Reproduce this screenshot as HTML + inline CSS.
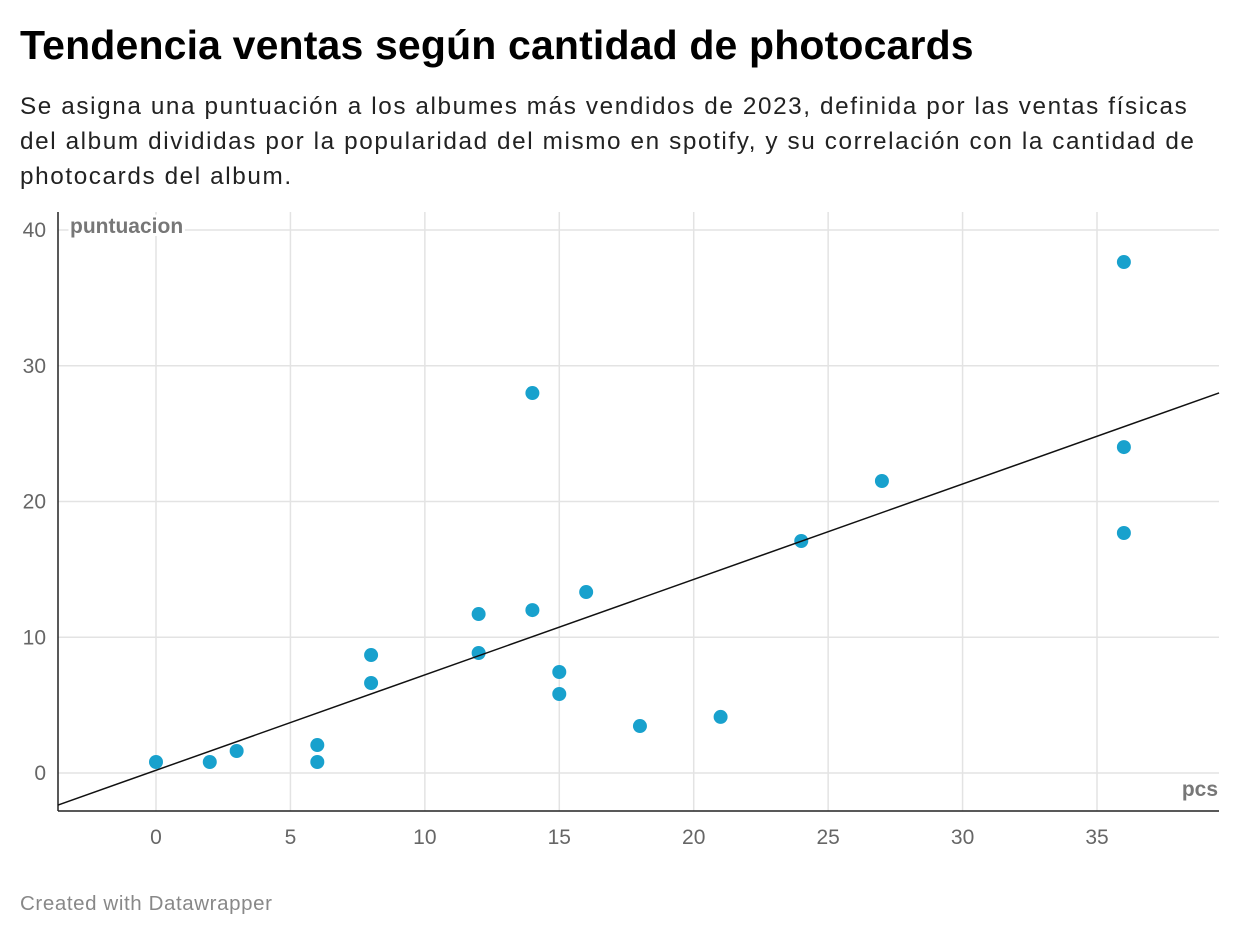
<!DOCTYPE html>
<html><head><meta charset="utf-8"><style>
body{margin:0;background:#fff;font-family:"Liberation Sans",sans-serif;}
#wrap{position:relative;width:1240px;height:938px;overflow:hidden}
h1{position:absolute;left:20px;top:22px;margin:0;font-size:41px;font-weight:bold;color:#000;letter-spacing:0.15px;white-space:nowrap}
p.sub{position:absolute;left:20px;top:89px;margin:0;font-size:24.3px;line-height:35px;color:#222;white-space:nowrap;letter-spacing:1.6px}
.foot{position:absolute;left:20px;top:892px;font-size:20.5px;color:#888;letter-spacing:0.6px}
svg{position:absolute;left:0;top:0}
</style></head><body>
<div id="wrap">
<h1>Tendencia ventas según cantidad de photocards</h1>
<p class="sub">Se asigna una puntuación a los albumes más vendidos de 2023, definida por las ventas físicas<br>del album divididas por la popularidad del mismo en spotify, y su correlación con la cantidad de<br>photocards del album.</p>
<svg id="chart" width="1240" height="938"></svg>
<div class="foot">Created with Datawrapper</div>
</div>
<script>
const xVals=[0,2,3,6,6,8,8,12,12,14,14,15,15,16,18,21,24,27,36,36,36];
const yVals=[0.81,0.81,1.62,2.06,0.81,8.69,6.63,11.71,8.84,27.99,12.0,7.44,5.82,13.33,3.46,4.13,17.09,21.51,37.64,24.01,17.68];
const xTicks=[0,5,10,15,20,25,30,35];
const yTicks=[0,10,20,30,40];
const trendSlope=0.703;
const trendIntercept=0.20;
const xMin=-3.645,xMax=39.54,yMin=-2.8,yMax=41.3;
const L=58,R=1219,T=212,B=811;
const sx=v=>156+v*(1097-156)/35;
const sy=v=>773-v*(773-230)/40;
const svg=document.getElementById('chart');
const NS='http://www.w3.org/2000/svg';
function mk(tag,attrs){const e=document.createElementNS(NS,tag);for(const k in attrs)e.setAttribute(k,attrs[k]);svg.appendChild(e);return e;}
xTicks.forEach(t=>{
 const g=mk('line',{x1:sx(t),x2:sx(t),y1:T,y2:B,stroke:'#e3e3e3','stroke-width':1.5});
 
 
 const tx=mk('text',{x:sx(t),y:844,'text-anchor':'middle','font-size':21,fill:'#666','font-family':'Liberation Sans, sans-serif'});
 tx.textContent=t;
 
 
});
yTicks.forEach(t=>{
 const g=mk('line',{x1:L,x2:R,y1:sy(t),y2:sy(t),stroke:'#e3e3e3','stroke-width':1.5});
 
 
 const tx=mk('text',{x:46,y:sy(t)+7,'text-anchor':'end','font-size':21,fill:'#666','font-family':'Liberation Sans, sans-serif'});
 tx.textContent=t;
 
 
});
const ax=mk('line',{x1:L,x2:L,y1:T,y2:B,stroke:'#222','stroke-width':1.5});


const bx=mk('line',{x1:L,x2:R,y1:B,y2:B,stroke:'#222','stroke-width':1.5});


const yt=mk('text',{x:70,y:233,'font-size':21,'font-weight':'bold',fill:'#777','font-family':'Liberation Sans, sans-serif',stroke:'#fff','stroke-width':6,'paint-order':'stroke'});
yt.textContent='puntuacion';


const xt=mk('text',{x:1218,y:796,'text-anchor':'end','font-size':21,'font-weight':'bold',fill:'#777','font-family':'Liberation Sans, sans-serif',stroke:'#fff','stroke-width':6,'paint-order':'stroke'});
xt.textContent='pcs';


xVals.forEach((x,i)=>{
 const c=mk('circle',{cx:sx(x),cy:sy(yVals[i]),r:7,fill:'#18a1cd'});
 
 
});
const tl=mk('line',{x1:sx(xMin),y1:sy(trendIntercept+trendSlope*xMin),x2:sx(xMax),y2:sy(trendIntercept+trendSlope*xMax),stroke:'#111','stroke-width':1.5});


</script>
</body></html>
